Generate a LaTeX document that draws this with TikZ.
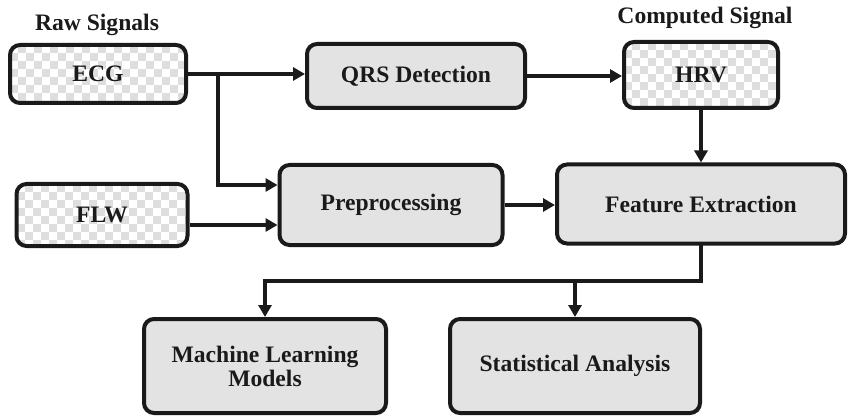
\documentclass[tikz,border=0pt]{standalone}
\usepackage{fontspec}
\setmainfont{Liberation Serif}
\usetikzlibrary{arrows.meta}
\definecolor{boxfill}{HTML}{E3E3E3}
\definecolor{chk}{HTML}{DEDEDE}
\definecolor{ink}{HTML}{1A1A1A}
\tikzset{
  base/.style={draw=ink, line width=4pt, rounded corners=10pt,
    font=\fontsize{23.6}{24}\selectfont\bfseries, text=ink, align=center, inner sep=0pt},
  proc/.style={base, fill=boxfill},
  sig/.style={base, fill=white, path picture={
      \foreach \i in {0,...,24}{
        \foreach \j in {0,...,9}{
          \pgfmathtruncatemacro\chkpar{mod(\i+\j,2)}
          \ifnum\chkpar=1
            \fill[chk, sharp corners] ([shift={(\i*8pt,-\j*8pt)}]path picture bounding box.north west) rectangle +(8pt,-8pt);
          \fi
        }
      }
    }},
  arr/.style={draw=ink, line width=4pt, -{Triangle[length=12pt,width=13pt]}},
  lin/.style={draw=ink, line width=4pt},
  head/.style={font=\fontsize{23.6}{24}\selectfont\bfseries, text=ink, inner sep=0pt}
}
\begin{document}
\begin{tikzpicture}[x=1pt,y=-1pt]
\useasboundingbox[fill=white] (0,0) rectangle (849,417);
% headings
\node[head] (hraw) at (97,25) {Raw Signals};
\node[head] (hcomp) at (705,18) {Computed Signal};
% boxes
\node[sig, minimum width=176pt, minimum height=58pt] (ecg) at (98,74) {ECG};
\node[sig, minimum width=171pt, minimum height=62pt] (flw) at (102,215) {FLW};
\node[sig, minimum width=154pt, minimum height=66pt] (hrv) at (701,75) {HRV};
\node[proc, minimum width=218pt, minimum height=64pt] (qrs) at (416,76) {QRS Detection};
\node[proc, minimum width=223pt, minimum height=80pt] (prep) at (391,205) {Preprocessing};
\node[proc, minimum width=288pt, minimum height=79pt] (fe) at (701,204) {Feature Extraction};
\node[proc, minimum width=242pt, minimum height=94pt] (ml) at (265,366) {Machine Learning\\Models};
\node[proc, minimum width=250pt, minimum height=94pt] (sa) at (575,366) {Statistical Analysis};
% connectors
\coordinate (br) at (218,74);
\coordinate (bus) at (0,281);
\draw[arr] (ecg.east) -- (ecg.east -| qrs.west);
\draw[arr] (br) |- ([yshift=20pt]prep.west);
\draw[arr] ([yshift=-10pt]flw.east) -- ([yshift=-20pt]prep.west);
\draw[arr] (qrs.east) -- (qrs.east -| hrv.west);
\draw[arr] (hrv.south) -- (hrv.south |- fe.north);
\draw[arr] (prep.east) -- (prep.east -| fe.west);
\draw[lin, line cap=rect] (fe.south) -- (fe.south |- bus) -- (ml.north |- bus);
\draw[arr] (ml.north |- bus) -- (ml.north);
\draw[arr] (sa.north |- bus) -- (sa.north);
\end{tikzpicture}
\end{document}
